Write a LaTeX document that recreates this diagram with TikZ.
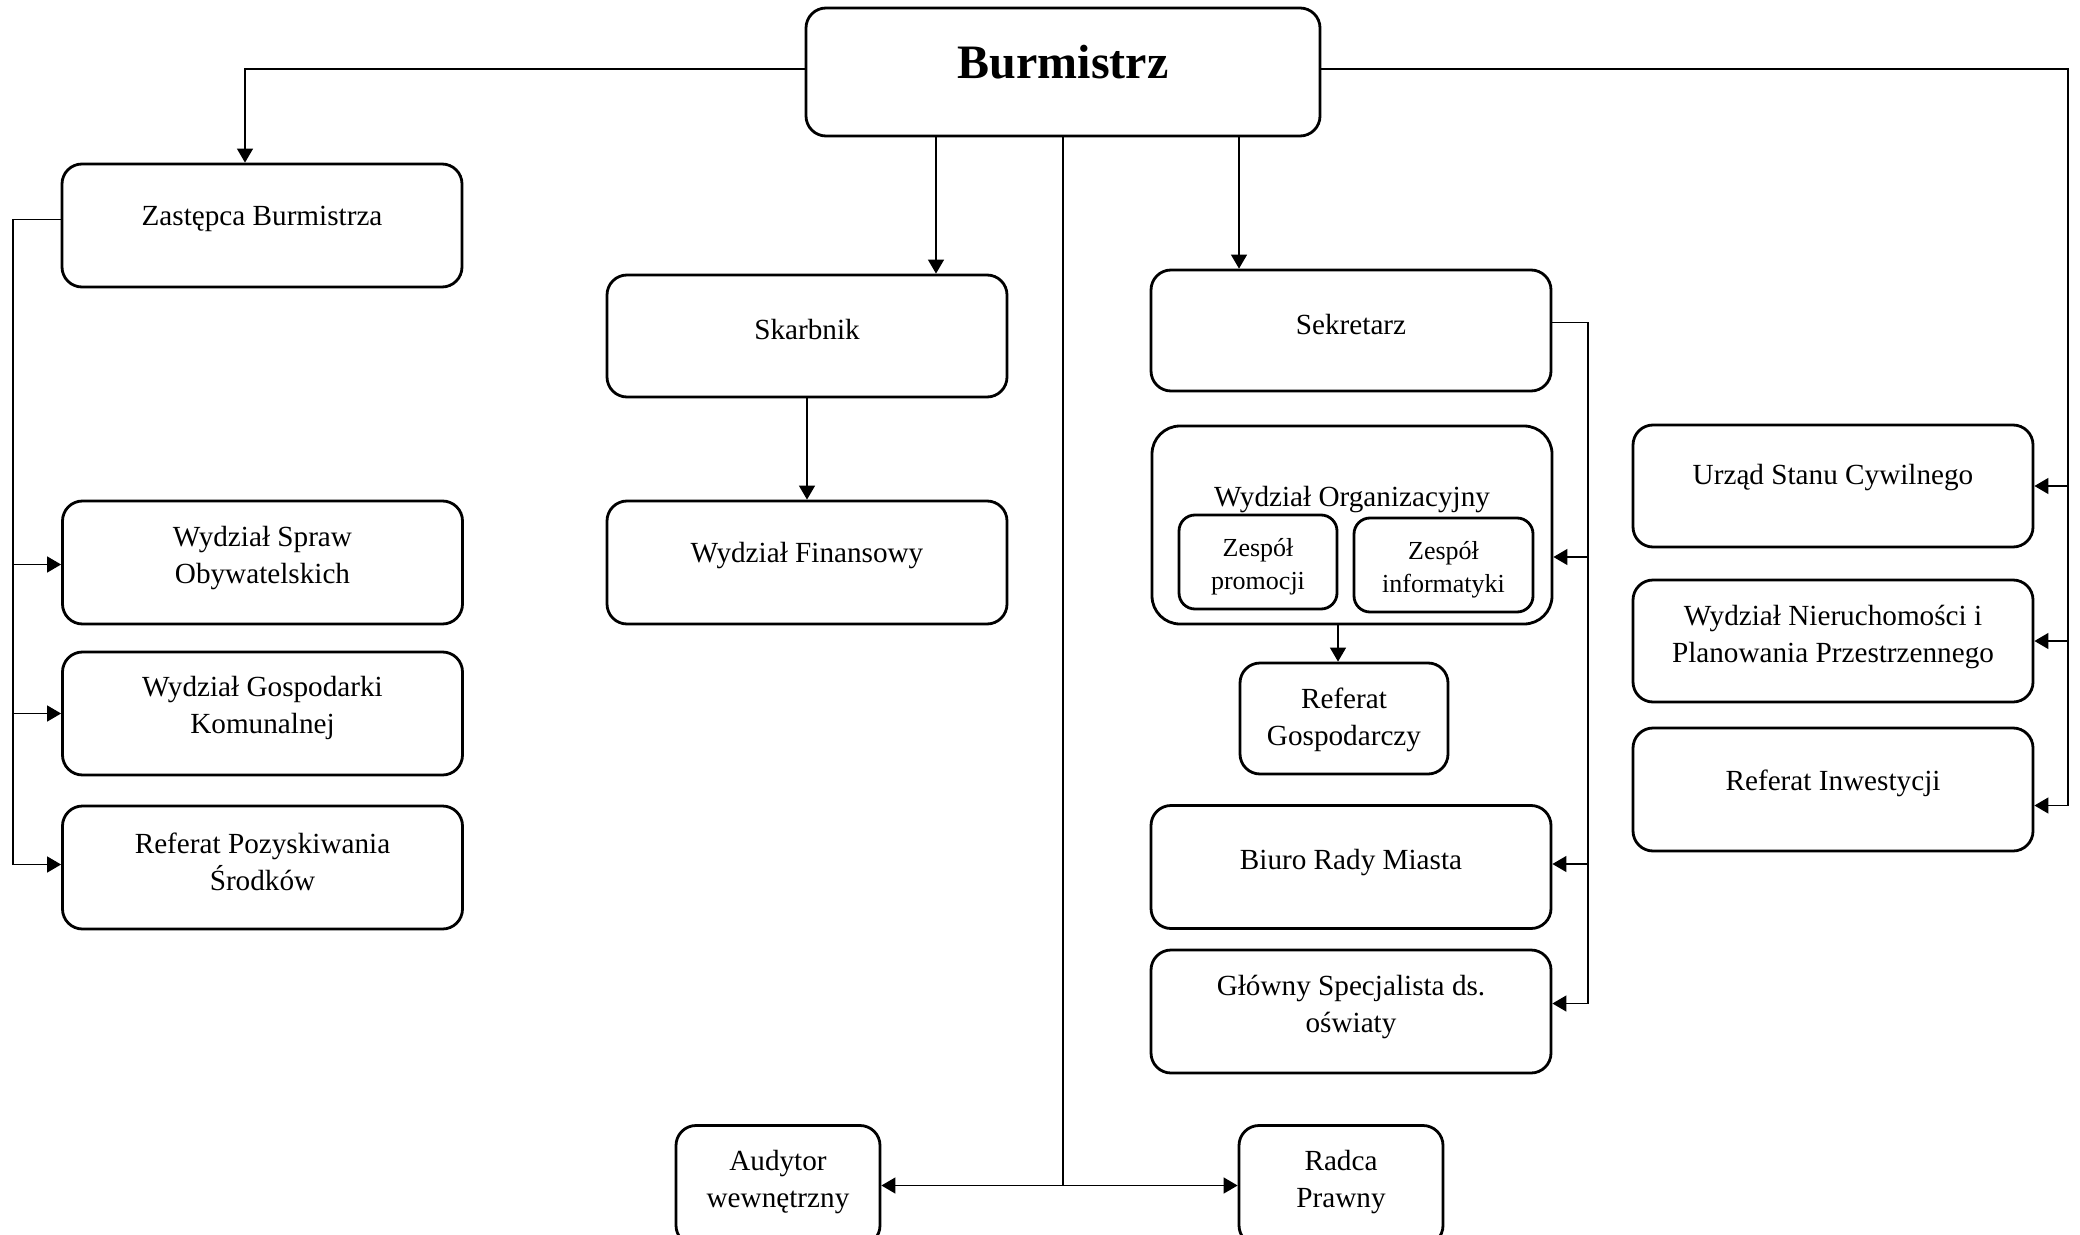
\documentclass[tikz,border=0pt]{standalone}
\usepackage{fontspec}
\setmainfont{Liberation Serif}
\usetikzlibrary{arrows.meta}
\begin{document}
\begin{tikzpicture}[x=0.5pt,y=-0.5pt,
  box/.style={draw, line width=1.4pt, rounded corners=10pt, inner sep=0pt},
  txt/.style={align=center, inner sep=0pt, font=\fontsize{14.6}{18.5}\selectfont, yshift=-1.8pt},
  smalltxt/.style={align=center, inner sep=0pt, font=\fontsize{13}{16.5}\selectfont, yshift=-1.3pt},
  conn/.style={line width=0.7pt},
  arr/.style={conn, -{Triangle[length=7pt,width=8pt]}}]
\useasboundingbox (0,0) rectangle (2080,1235);
\clip (0,0) rectangle (2080,1235);

% boxes
\node[box, minimum width=257pt, minimum height=64pt] (burm) at (1063,72) {};
\node[box, minimum width=200pt, minimum height=61.5pt] (zast) at (262,225.5) {};
\node[box, minimum width=200pt, minimum height=61pt] (skarb) at (807,336) {};
\node[box, minimum width=200pt, minimum height=61.5pt] (wfin) at (807,562.5) {};
\node[box, minimum width=200pt, minimum height=60.5pt] (sekr) at (1351,330.5) {};
\node[box, minimum width=200pt, minimum height=99pt, rounded corners=14pt] (worg) at (1352,525) {};
\node[box, minimum width=79pt, minimum height=47pt, rounded corners=8pt] (zprom) at (1258,562) {};
\node[box, minimum width=89.5pt, minimum height=47pt, rounded corners=8pt] (zinf) at (1443.5,565) {};
\node[box, minimum width=104pt, minimum height=55.5pt] (rgosp) at (1344,718.5) {};
\node[box, minimum width=200pt, minimum height=61.5pt] (biuro) at (1351,867) {};
\node[box, minimum width=200pt, minimum height=61.5pt] (glowny) at (1351,1011.5) {};
\node[box, minimum width=200pt, minimum height=61pt] (usc) at (1833,486) {};
\node[box, minimum width=200pt, minimum height=61pt] (wnier) at (1833,641) {};
\node[box, minimum width=200pt, minimum height=61.5pt] (rinw) at (1833,789.5) {};
\node[box, minimum width=200pt, minimum height=61.5pt] (wso) at (262.5,562.5) {};
\node[box, minimum width=200pt, minimum height=61.5pt] (wgk) at (262.5,713.5) {};
\node[box, minimum width=200pt, minimum height=61.5pt] (rps) at (262.5,867.5) {};
\node[box, minimum width=102pt, minimum height=60pt] (aud) at (778,1185.5) {};
\node[box, minimum width=102pt, minimum height=60pt] (radca) at (1341,1185.5) {};

% texts
\node[inner sep=0pt, font=\fontsize{24}{28}\selectfont\bfseries] (burmT) at (1063,62) {Burmistrz};
\node[txt] (zastT) at (262,215) {Zastępca Burmistrza};
\node[txt] (skarbT) at (807,326) {Skarbnik};
\node[txt] (wfinT) at (807,552) {Wydział Finansowy};
\node[txt] (sekrT) at (1351,321) {Sekretarz};
\node[txt] (worgT) at (1352,496) {Wydział Organizacyjny};
\node[smalltxt] (zpromT) at (1258,564) {Zespół\\promocji};
\node[smalltxt] (zinfT) at (1443.5,567) {Zespół\\informatyki};
\node[txt] (rgospT) at (1344,716) {Referat\\Gospodarczy};
\node[txt] (biuroT) at (1351,859) {Biuro Rady Miasta};
\node[txt] (glownyT) at (1351,1003) {Główny Specjalista ds.\\oświaty};
\node[txt] (uscT) at (1833,474) {Urząd Stanu Cywilnego};
\node[txt] (wnierT) at (1833,633) {Wydział Nieruchomości i\\Planowania Przestrzennego};
\node[txt] (rinwT) at (1833,780) {Referat Inwestycji};
\node[txt] (wsoT) at (262.5,554.5) {Wydział Spraw\\Obywatelskich};
\node[txt] (wgkT) at (262.5,704.5) {Wydział Gospodarki\\Komunalnej};
\node[txt] (rpsT) at (262.5,858.5) {Referat Pozyskiwania\\Środków};
\node[txt] (audT) at (778,1178) {Audytor\\wewnętrzny};
\node[txt] (radcaT) at (1341,1178) {Radca\\Prawny};

% helper coordinates
\coordinate (zastin) at (245,0);
\coordinate (skarbin) at (936,0);
\coordinate (sekrin) at (1239,0);
\coordinate (lbus) at (13,0);
\coordinate (rbus) at (2068,0);
\coordinate (sbus) at (1588,0);
\coordinate (rgx) at (1338,0);

% connectors
\draw[arr] ([yshift=1.5pt]burm.west) -| (zast.north -| zastin);
\draw[arr] (burm.south -| skarbin) -- (skarb.north -| skarbin);
\draw[arr] (burm.south -| sekrin) -- (sekr.north -| sekrin);
\draw[arr] (burm.south) |- (aud.east);
\draw[arr] (burm.south) |- (radca.west);
\draw[arr] (skarb.south) -- (wfin.north);

\draw[arr] ([yshift=3pt]zast.west) -- ([yshift=3pt]zast.west -| lbus) |- ([yshift=-1pt]wso.west);
\draw[arr] ([yshift=3pt]zast.west -| lbus) |- (wgk.west);
\draw[arr] ([yshift=3pt]zast.west -| lbus) |- ([yshift=1.5pt]rps.west);

\draw[arr] ([yshift=1.5pt]burm.east) -- ([yshift=1.5pt]burm.east -| rbus) |- (usc.east);
\draw[arr] ([yshift=1.5pt]burm.east -| rbus) |- (wnier.east);
\draw[arr] ([yshift=1.5pt]burm.east -| rbus) |- ([yshift=-8pt]rinw.east);

\draw[arr] ([yshift=4pt]sekr.east) -- ([yshift=4pt]sekr.east -| sbus) |- ([yshift=-16pt]worg.east);
\draw[arr] ([yshift=4pt]sekr.east -| sbus) |- ([yshift=1.5pt]biuro.east);
\draw[arr] ([yshift=4pt]sekr.east -| sbus) |- ([yshift=4pt]glowny.east);

\draw[arr] (worg.south -| rgx) -- (rgosp.north -| rgx);
\end{tikzpicture}
\end{document}
